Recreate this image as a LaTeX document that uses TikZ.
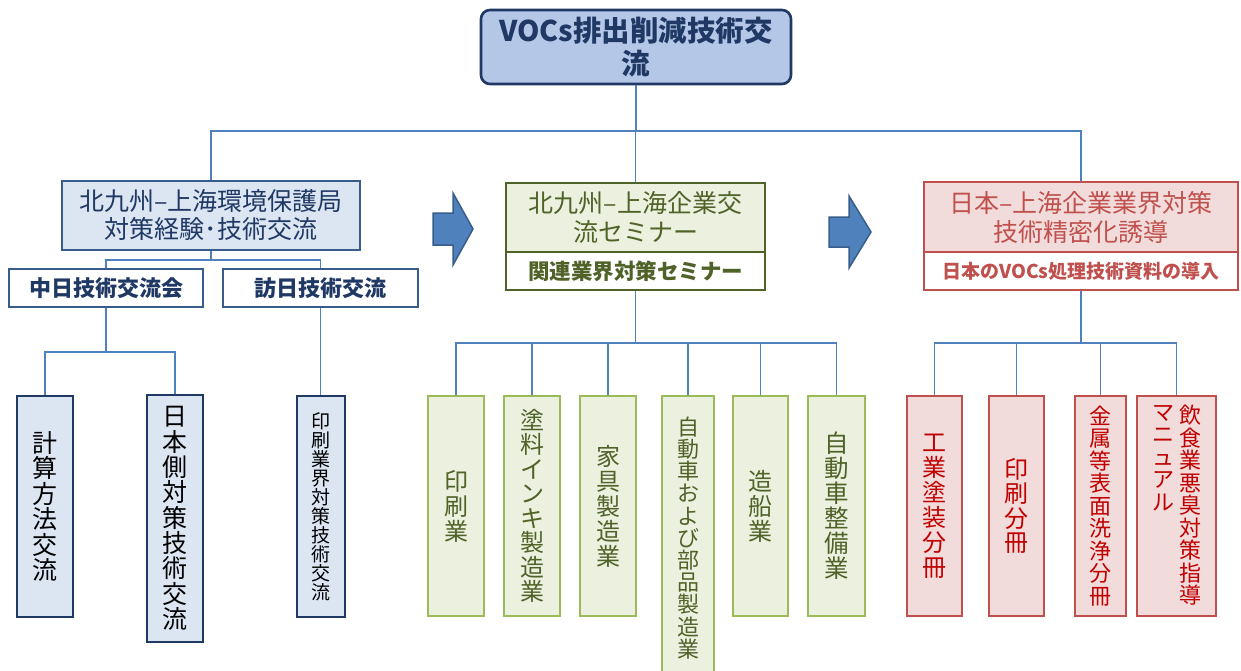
\documentclass[tikz,border=0pt]{standalone}
\usepackage{fontspec}
\setmainfont{Noto Sans CJK JP}
\usetikzlibrary{calc}
\definecolor{navy}{HTML}{1F3864}
\definecolor{midnavy}{HTML}{385D8A}
\definecolor{topfill}{HTML}{B4C7E7}
\definecolor{bluefill}{HTML}{DCE6F2}
\definecolor{lineblue}{HTML}{4F81BD}
\definecolor{olive}{HTML}{4F6228}
\definecolor{lgreen}{HTML}{9BBB59}
\definecolor{greenfill}{HTML}{EBF1DE}
\definecolor{softred}{HTML}{C0504D}
\definecolor{redfill}{HTML}{F2DCDB}
\definecolor{deepred}{HTML}{C00000}
\definecolor{arrfill}{HTML}{4F81BD}
\begin{document}
\begin{tikzpicture}[x=1pt,y=-1pt,
  conn/.style={draw=lineblue,line width=1.2pt},
  anybox/.style={draw,line width=2.6pt,inner sep=0pt,align=center},
  topbox/.style={anybox,draw=navy,fill=topfill,rounded corners=9pt,text=navy,
     font=\fontsize{28.5}{33}\selectfont\bfseries},
  lbox/.style={anybox,draw=midnavy,fill=bluefill,text=navy,font=\fontsize{25}{28}\selectfont},
  subbox/.style={anybox,draw=midnavy,fill=white,text=navy,font=\fontsize{22}{26}\selectfont\bfseries,
     minimum height=38},
  leafblue/.style={anybox,draw=navy,fill=bluefill,text=black,minimum height=221},
  cbox/.style={anybox,draw=olive,fill=greenfill,text=olive,font=\fontsize{25}{29}\selectfont,
     minimum width=259,minimum height=69},
  cbot/.style={anybox,draw=olive,fill=white,text=olive,font=\fontsize{21.5}{25}\selectfont\bfseries,
     minimum width=259,minimum height=38},
  rbox/.style={anybox,draw=softred,fill=redfill,text=softred,font=\fontsize{25}{29}\selectfont,
     minimum width=314,minimum height=70},
  rbot/.style={anybox,draw=softred,fill=white,text=softred,font=\fontsize{19}{22}\selectfont\bfseries,
     minimum width=314,minimum height=38},
  leafgreen/.style={anybox,draw=lgreen,fill=greenfill,text=olive,minimum height=220},
  leafred/.style={anybox,draw=softred,fill=redfill,text=deepred,minimum height=220},
  coltext/.style={align=center,inner sep=0pt,anchor=north,text=deepred,font=\fontsize{22}{22.5}\selectfont},
  arrowshape/.style={fill=arrfill,draw=midnavy,line width=1.5pt,line join=miter}
]
\useasboundingbox (0,0) rectangle (1241,671);

% ---- top
\node[topbox,minimum width=310,minimum height=74] (top) at (636,47) {VOCs排出削減技術交\\流};

% ---- left branch
\node[lbox,minimum width=298,minimum height=69] (L1) at (211,215.5) {北九州–上海環境保護局\\対策経験･技術交流};
\node[subbox,minimum width=194] (sa) at (106,288) {中日技術交流会};
\node[subbox,minimum width=195] (sb) at (320.5,288) {訪日技術交流};
\node[leafblue,minimum width=56,font=\fontsize{25}{25.5}\selectfont] (b1) at (45,506.5) {計\\算\\方\\法\\交\\流};
\node[leafblue,minimum width=56,minimum height=247,font=\fontsize{25}{25.3}\selectfont] (b2) at (175,518.5) {日\\本\\側\\対\\策\\技\\術\\交\\流};
\node[leafblue,minimum width=48,font=\fontsize{19}{19}\selectfont] (b3) at (321,506.5) {印\\刷\\業\\界\\対\\策\\技\\術\\交\\流};

% ---- centre branch
\node[cbox] (C1) at (635.5,217.5) {北九州–上海企業交\\流セミナー};
\node[cbot] (C2) at (635.5,271) {関連業界対策セミナー};
\node[leafgreen,minimum width=56,font=\fontsize{24}{25}\selectfont] (g1) at (456,506) {印\\刷\\業};
\node[leafgreen,minimum width=56,font=\fontsize{24}{24.5}\selectfont] (g2) at (532,506) {塗\\料\\イ\\ン\\キ\\製\\造\\業};
\node[leafgreen,minimum width=56,font=\fontsize{24}{25}\selectfont] (g3) at (608,506) {家\\具\\製\\造\\業};
\node[leafgreen,minimum width=52,minimum height=284,font=\fontsize{22}{22.2}\selectfont] (g4) at (688,538) {自\\動\\車\\お\\よ\\び\\部\\品\\製\\造\\業};
\node[leafgreen,minimum width=55,font=\fontsize{24}{25}\selectfont] (g5) at (760.5,506) {造\\船\\業};
\node[leafgreen,minimum width=57,font=\fontsize{24.5}{25}\selectfont] (g6) at (836.5,506) {自\\動\\車\\整\\備\\業};

% ---- right branch
\node[rbox] (R1) at (1081,217) {日本–上海企業業界対策\\技術精密化誘導};
\node[rbot] (R2) at (1081,271) {日本のVOCs処理技術資料の導入};
\node[leafred,minimum width=55,font=\fontsize{24}{25}\selectfont] (r1) at (934.5,506) {工\\業\\塗\\装\\分\\冊};
\node[leafred,minimum width=55,font=\fontsize{24}{24.5}\selectfont] (r2) at (1016.5,506) {印\\刷\\分\\冊};
\node[leafred,minimum width=51,font=\fontsize{22}{22.5}\selectfont] (r3) at (1100.5,506) {金\\属\\等\\表\\面\\洗\\浄\\分\\冊};
\node[leafred,minimum width=79] (r4) at (1176.5,506) {};
\node[coltext] (r4a) at (1190,405) {飲\\食\\業\\悪\\臭\\対\\策\\指\\導};
\node[coltext] (r4b) at (1163,405) {マ\\ニ\\ュ\\ア\\ル};

% ---- block arrows
\path[arrowshape] (433,213) -- (453,213) -- (453,193) -- (473,229) -- (453,265) -- (453,245) -- (433,245) -- cycle;
\path[arrowshape] (829,217) -- (849,217) -- (849,196) -- (871,232) -- (849,268) -- (849,247) -- (829,247) -- cycle;

% ---- connectors
\coordinate (busA) at (0,131);
\coordinate (busB) at (0,260);
\coordinate (busC) at (0,352);
\coordinate (busD) at (0,343);

\draw[conn] (top.south) -- (top.south |- busA);
\draw[conn] (L1.north) |- (R1.north |- busA) -- (R1.north);
\draw[conn] (C1.north) -- (C1.north |- busA);

\draw[conn] (L1.south) -- (L1.south |- busB);
\draw[conn] (sa.north) |- (sb.north |- busB) -- (sb.north);

\draw[conn] (sa.south) -- (sa.south |- busC);
\draw[conn] (b1.north) |- (b2.north |- busC) -- (b2.north);
\draw[conn] (sb.south) -- (sb.south |- b3.north);

\draw[conn,line width=1.8pt] (C2.south) -- (C2.south |- busD);
\draw[conn] (g1.north) |- (g6.north |- busD) -- (g6.north);
\foreach \n in {g2,g3,g4,g5} \draw[conn] (\n.north) -- (\n.north |- busD);

\draw[conn,line width=1.8pt] (R2.south) -- (R2.south |- busD);
\draw[conn] (r1.north) |- (r4.north |- busD) -- (r4.north);
\foreach \n in {r2,r3} \draw[conn] (\n.north) -- (\n.north |- busD);
\end{tikzpicture}
\end{document}
